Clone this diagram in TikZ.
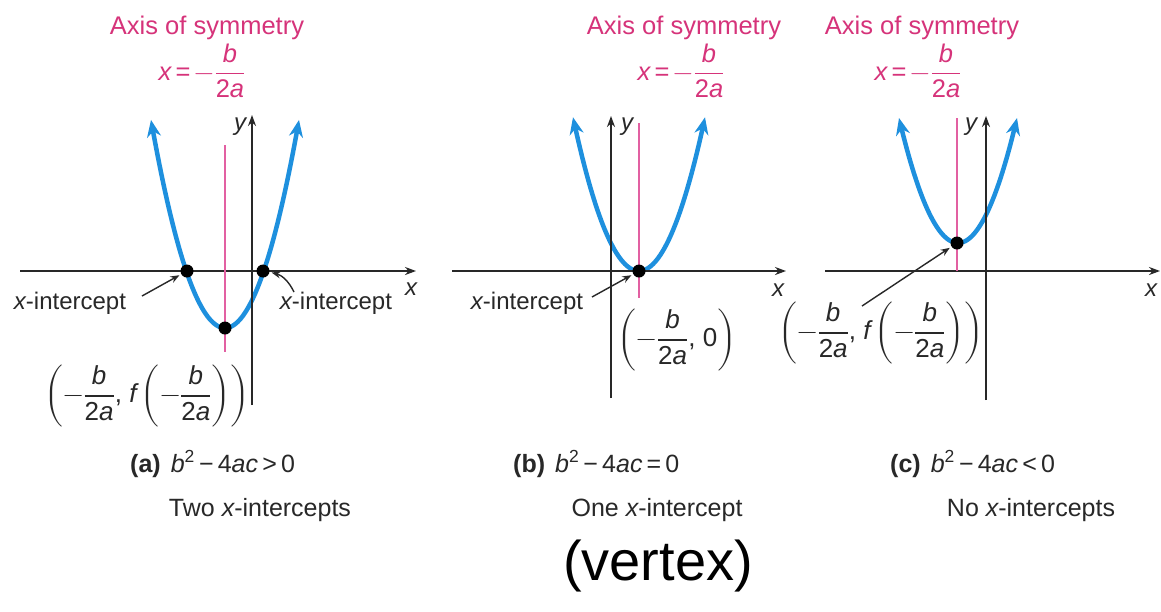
\documentclass[tikz,border=0pt]{standalone}
\usepackage{fontspec}
\setmainfont{Liberation Sans}
\usepackage{amsmath}
\usepackage{unicode-math}
\setmathfont{Latin Modern Math}
\usetikzlibrary{arrows.meta}
\definecolor{pinkc}{RGB}{214,51,122}
\definecolor{pinkl}{RGB}{226,96,162}
\definecolor{bluec}{RGB}{30,144,222}
\definecolor{txtc}{RGB}{40,40,40}
\newcommand{\bfr}{\dfrac{\mbox{\itshape b}}{\mbox{2\itshape a}}}
\newcommand{\axform}{$\mbox{\itshape x\,}\mbox{=}\,{-}\bfr$}
\begin{document}
\begin{tikzpicture}[x=1pt,y=-1pt,
 lbl/.style={font=\fontsize{24}{28}\selectfont, text=txtc, inner sep=0pt},
 vlbl/.style={font=\fontsize{26}{30}\selectfont, text=txtc, inner sep=0pt},
 captxt/.style={font=\fontsize{25}{28}\selectfont, text=txtc, inner sep=0pt},
 pinktxt/.style={font=\fontsize{25.5}{28}\selectfont, text=pinkc, inner sep=0pt},
 axisln/.style={line width=2pt, draw=txtc, -{Stealth[length=11pt,width=8pt]}},
 symln/.style={line width=2pt, draw=pinkl},
 curve/.style={line width=4.5pt, draw=bluec, {Stealth[length=17pt,width=14pt]}-{Stealth[length=17pt,width=14pt]}},
 dot/.style={circle, fill=black, inner sep=0pt, minimum size=13pt},
 ptr/.style={line width=1.4pt, draw=txtc, -{Stealth[length=9pt,width=7pt]}, shorten >=2pt},
]
\useasboundingbox (0,0) rectangle (1161,611);
\fill[white] (0,0) rectangle (1161,611);

% ================= panel (a)
\node[pinktxt] (ta) at (207,28) {Axis of symmetry};
\node[pinktxt] (fa) at (202,71) {\axform};
\draw[curve] plot[domain=151:299, samples=90] (\x, {328-0.038*(\x-225)^2});
\draw[axisln] (20,271) -- (416,271);
\draw[axisln] (252,405) -- (252,115);
\draw[symln] (225,145) -- (225,352);
\node[lbl] (xa) at (411,289) {\itshape x};
\node[lbl] (ya) at (240,127) {\itshape y};
\node[dot] (a1) at (187,271) {};
\node[dot] (a2) at (263,271) {};
\node[dot] (av) at (225,328) {};
\node[lbl] (la) at (70,303) {{\itshape x}-intercept};
\node[lbl] (ra) at (336,303) {{\itshape x}-intercept};
\coordinate (lat) at (142,296);
\coordinate (rat) at (294,292);
\draw[ptr] (lat) -- (a1);
\draw[ptr] (rat) to[bend right=25] (a2);
\node[vlbl] (va) at (147,396) {$\left(-\bfr\mbox{, \itshape f}\left(-\bfr\right)\right)$};
\node[captxt, anchor=west] (ca) at (130,464) {\textbf{(a)}\hspace{10pt}{\itshape b}\textsuperscript{2}\,−\,4{\itshape ac}\,>\,0};
\node[captxt] (da) at (260,510) {Two {\itshape x}-intercepts};

% ================= panel (b)
\node[pinktxt] (tb) at (684,28) {Axis of symmetry};
\node[pinktxt] (fb) at (681,71) {\axform};
\draw[curve] plot[domain=573:705, samples=90] (\x, {271-0.0353*(\x-639)^2});
\draw[axisln] (452,271) -- (786,271);
\draw[axisln] (611,398) -- (611,116);
\draw[symln] (639,123) -- (639,298);
\node[lbl] (xb) at (778,290) {\itshape x};
\node[lbl] (yb) at (627,127) {\itshape y};
\node[dot] (b1) at (639,271) {};
\node[lbl] (lb) at (527,303) {{\itshape x}-intercept};
\coordinate (lbt) at (592,297);
\draw[ptr] (lbt) -- (b1);
\node[vlbl] (vb) at (677,340) {$\left(-\bfr\mbox{, 0}\right)$};
\node[captxt, anchor=west] (cb) at (513,464) {\textbf{(b)}\hspace{10pt}{\itshape b}\textsuperscript{2}\,−\,4{\itshape ac}\,=\,0};
\node[captxt] (db) at (657,510) {One {\itshape x}-intercept};

% ================= panel (c)
\node[pinktxt] (tc) at (922,28) {Axis of symmetry};
\node[pinktxt] (fc) at (918,71) {\axform};
\draw[curve] plot[domain=899:1017, samples=90] (\x, {243-0.0359*(\x-958)^2});
\draw[axisln] (825,271) -- (1160,271);
\draw[axisln] (986,400) -- (986,116);
\draw[symln] (957,118) -- (957,271);
\node[lbl] (xc) at (1151,290) {\itshape x};
\node[lbl] (yc) at (971,127) {\itshape y};
\node[dot] (cv) at (957,243) {};
\coordinate (lct) at (862,306);
\draw[ptr] (lct) -- (cv);
\node[vlbl] (vc) at (881,333) {$\left(-\bfr\mbox{, \itshape f}\left(-\bfr\right)\right)$};
\node[captxt, anchor=west] (cc) at (890,464) {\textbf{(c)}\hspace{10pt}{\itshape b}\textsuperscript{2}\,−\,4{\itshape ac}\,<\,0};
\node[captxt] (dc) at (1031,510) {No {\itshape x}-intercepts};

% ================= handwritten note
\node[font=\fontsize{56}{60}\selectfont, text=black, inner sep=0pt] (vx) at (658,566) {(vertex)};
\end{tikzpicture}
\end{document}
